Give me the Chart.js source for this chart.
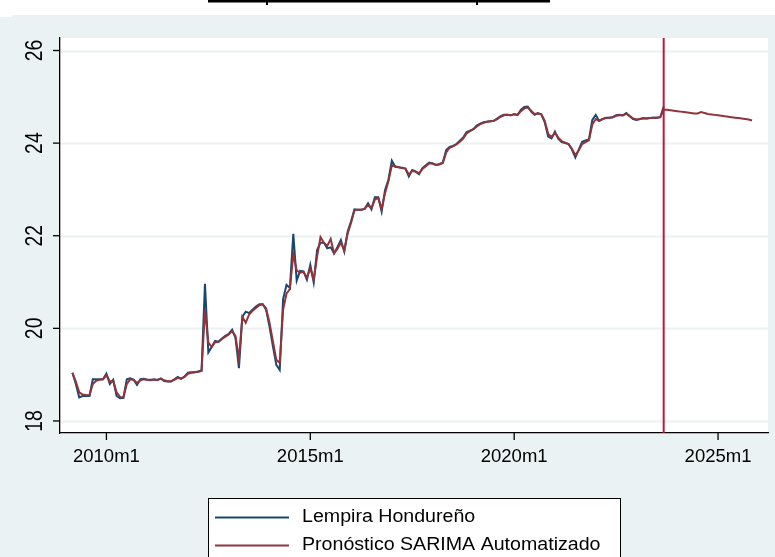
<!DOCTYPE html>
<html>
<head>
<meta charset="utf-8">
<script src="https://cdn.jsdelivr.net/npm/chart.js@4.4.1/dist/chart.umd.min.js"></script>
<style>
  body { margin: 0; background: #eaf2f3; }
  canvas { display: block; }
</style>
</head>
<body>
<canvas id="tsChart" width="775" height="557"></canvas>
<script>
// months counted from 2010m1 (= 0); first observation is 2009m3
const startMonth = -10;
const forecastStart = 164; // 2023m9

const lempira = [
    19.04, 18.80, 18.51, 18.54, 18.54, 18.54, 18.90, 18.90, 18.90, 18.90,
    19.02, 18.80, 18.89, 18.54, 18.49, 18.50, 18.90, 18.92, 18.89, 18.78, 18.90, 18.91,
    18.89, 18.88, 18.90, 18.88, 18.92, 18.86, 18.85, 18.85, 18.90, 18.95, 18.91, 18.96,
    19.04, 19.05, 19.05, 19.07, 19.09, 20.96, 19.48, 19.60, 19.73, 19.71, 19.78, 19.84,
    19.88, 19.97, 19.79, 19.14, 20.25, 20.36, 20.33, 20.40, 20.47, 20.52, 20.52, 20.40,
    20.04, 19.61, 19.21, 19.10, 20.63, 20.94, 20.87, 22.04, 21.03, 21.24, 21.23, 21.05,
    21.37, 20.99, 21.69, 21.85, 21.85, 21.73, 21.75, 21.62, 21.76, 21.91, 21.66, 22.09,
    22.31, 22.57, 22.56, 22.56, 22.58, 22.70, 22.57, 22.83, 22.83, 22.52, 22.99, 23.21,
    23.62, 23.49, 23.48, 23.47, 23.45, 23.28, 23.42, 23.39, 23.33, 23.46, 23.52, 23.58,
    23.56, 23.53, 23.55, 23.58, 23.85, 23.92, 23.94, 23.98, 24.05, 24.12, 24.24, 24.27,
    24.30, 24.38, 24.42, 24.45, 24.46, 24.47, 24.48, 24.53, 24.58, 24.61, 24.61, 24.60,
    24.63, 24.61, 24.72, 24.78, 24.79, 24.68, 24.61, 24.65, 24.62, 24.45, 24.14, 24.10,
    24.25, 24.09, 24.02, 24.00, 23.98, 23.86, 23.69, 23.86, 24.03, 24.06, 24.08, 24.50,
    24.61, 24.48, 24.52, 24.55, 24.55, 24.56, 24.60, 24.61, 24.60, 24.65, 24.58, 24.52,
    24.50, 24.52, 24.54, 24.53, 24.54, 24.55, 24.55, 24.56, 24.79
];

const sarima = [
    19.04, 18.85, 18.62, 18.57, 18.56, 18.55, 18.80, 18.87, 18.89, 18.90,
    18.99, 18.85, 18.86, 18.62, 18.52, 18.51, 18.80, 18.90, 18.89, 18.82, 18.88, 18.90,
    18.89, 18.89, 18.89, 18.89, 18.91, 18.88, 18.86, 18.86, 18.89, 18.93, 18.92, 18.95,
    19.02, 19.04, 19.05, 19.06, 19.08, 20.40, 19.69, 19.60, 19.70, 19.71, 19.77, 19.82,
    19.87, 19.94, 19.83, 19.33, 20.25, 20.12, 20.30, 20.38, 20.44, 20.50, 20.52, 20.43,
    20.12, 19.72, 19.32, 19.25, 20.40, 20.75, 20.85, 21.60, 21.25, 21.20, 21.22, 21.10,
    21.30, 21.05, 21.55, 21.97, 21.85, 21.78, 21.93, 21.62, 21.72, 21.85, 21.68, 22.05,
    22.28, 22.55, 22.56, 22.56, 22.58, 22.66, 22.60, 22.78, 22.82, 22.58, 22.92, 23.18,
    23.52, 23.50, 23.48, 23.46, 23.45, 23.32, 23.40, 23.38, 23.35, 23.44, 23.50, 23.56,
    23.56, 23.53, 23.54, 23.57, 23.80, 23.90, 23.93, 23.97, 24.03, 24.10, 24.21, 24.26,
    24.30, 24.36, 24.41, 24.44, 24.46, 24.47, 24.48, 24.52, 24.57, 24.60, 24.61, 24.60,
    24.62, 24.61, 24.69, 24.75, 24.77, 24.70, 24.63, 24.64, 24.62, 24.48, 24.20, 24.13,
    24.22, 24.12, 24.04, 24.01, 23.98, 23.88, 23.74, 23.84, 23.98, 24.02, 24.06, 24.40,
    24.52, 24.48, 24.52, 24.54, 24.55, 24.56, 24.59, 24.60, 24.60, 24.63, 24.59, 24.53,
    24.51, 24.52, 24.53, 24.53, 24.54, 24.55, 24.55, 24.56, 24.72, 24.72, 24.71, 24.70,
    24.69, 24.68, 24.67, 24.66, 24.65, 24.64, 24.64, 24.67, 24.65, 24.63, 24.62, 24.61,
    24.60, 24.59, 24.58, 24.57, 24.56, 24.55, 24.54, 24.53, 24.52, 24.51, 24.49
];

const xTickMonths = [0, 60, 120, 180];
const xTickLabels = ['2010m1', '2015m1', '2020m1', '2025m1'];
const yTicks = [18, 20, 22, 24, 26];

const BG = '#eaf2f3';
const BLUE = '#1a476f';
const MAROON = '#90353b';
const VLINE = '#c4163c';

const toPoints = arr => arr.map((v, i) => ({ x: startMonth + i, y: v }));

const stataLook = {
    id: 'stataLook',
    beforeDraw(chart) {
        const { ctx, chartArea: a, width } = chart;
        ctx.save();
        ctx.fillStyle = BG;
        ctx.fillRect(0, 0, width, chart.height);
        ctx.fillStyle = '#ffffff';
        ctx.fillRect(0, 0, width, 15);
        ctx.fillRect(0, 15, 12, 2);
        ctx.fillRect(a.left, a.top, a.right - a.left, a.bottom - a.top);
        // remnant of the cropped title
        ctx.fillStyle = '#000';
        ctx.fillRect(208, 0, 342, 2.5);
        ctx.fillRect(266, 2, 2, 3);
        ctx.fillRect(476, 2, 2, 3);
        // horizontal grid lines
        const y = chart.scales.y;
        ctx.strokeStyle = BG;
        ctx.lineWidth = 2;
        yTicks.forEach(v => {
            const py = Math.round(y.getPixelForValue(v)) + 0.5;
            ctx.beginPath();
            ctx.moveTo(a.left, py);
            ctx.lineTo(a.right, py);
            ctx.stroke();
        });
        ctx.restore();
    },
    afterDraw(chart) {
        const { ctx, chartArea: a } = chart;
        const x = chart.scales.x, y = chart.scales.y;
        ctx.save();
        // forecast start line
        const vx = x.getPixelForValue(forecastStart);
        ctx.strokeStyle = VLINE;
        ctx.lineWidth = 2;
        ctx.beginPath();
        ctx.moveTo(vx, a.top);
        ctx.lineTo(vx, a.bottom);
        ctx.stroke();

        // axis ticks and labels
        ctx.strokeStyle = '#000';
        ctx.lineWidth = 1.3;
        ctx.fillStyle = '#000';
        ctx.font = '18.5px "Liberation Sans", Arial, sans-serif';
        ctx.textAlign = 'center';
        ctx.textBaseline = 'middle';
        xTickMonths.forEach((m, i) => {
            const px = x.getPixelForValue(m);
            ctx.beginPath();
            ctx.moveTo(px, a.bottom);
            ctx.lineTo(px, a.bottom + 7);
            ctx.stroke();
            ctx.fillText(xTickLabels[i], px, 457);
        });
        ctx.font = '20px "Liberation Sans", Arial, sans-serif';
        yTicks.forEach(v => {
            const py = y.getPixelForValue(v);
            ctx.beginPath();
            ctx.moveTo(a.left - 7, py);
            ctx.lineTo(a.left, py);
            ctx.stroke();
            ctx.save();
            ctx.translate(35, py);
            ctx.rotate(-Math.PI / 2);
            ctx.scale(0.97, 1.18);
            ctx.fillText(String(v), 0, 0);
            ctx.restore();
        });

        // legend box
        ctx.fillStyle = '#ffffff';
        ctx.fillRect(208, 498, 412, 70);
        ctx.strokeStyle = '#000';
        ctx.lineWidth = 1;
        ctx.strokeRect(208.5, 498.5, 412, 70);
        ctx.textAlign = 'left';
        ctx.font = '17.5px "Liberation Sans", Arial, sans-serif';
        const rows = [517.5, 545.5];
        chart.data.datasets.slice().reverse().forEach((ds, i) => {
            ctx.strokeStyle = ds.borderColor;
            ctx.lineWidth = 1.8;
            ctx.beginPath();
            ctx.moveTo(215, rows[i]);
            ctx.lineTo(289, rows[i]);
            ctx.stroke();
            ctx.fillStyle = '#000';
            ctx.save();
            ctx.translate(302, rows[i]);
            ctx.scale(1.12, 1);
            ctx.fillText(ds.label, 0, 0);
            ctx.restore();
        });
        ctx.restore();
    }
};

new Chart(document.getElementById('tsChart'), {
    type: 'line',
    data: {
        datasets: [
            {
                label: 'Pronóstico SARIMA Automatizado',
                data: toPoints(sarima),
                borderColor: MAROON,
                borderWidth: 2,
                pointRadius: 0,
                tension: 0,
                order: 0
            },
            {
                label: 'Lempira Hondureño',
                data: toPoints(lempira),
                borderColor: BLUE,
                borderWidth: 2,
                pointRadius: 0,
                tension: 0,
                order: 1
            }
        ]
    },
    options: {
        responsive: false,
        animation: false,
        devicePixelRatio: 1,
        layout: { padding: { top: 38, right: 7, left: 0, bottom: 0 } },
        plugins: { legend: { display: false }, tooltip: { enabled: false } },
        scales: {
            x: {
                type: 'linear',
                min: -13.66,
                max: 194.7,
                ticks: { display: false },
                grid: { display: false },
                border: { display: true, color: '#000', width: 1.3 },
                afterFit: s => { s.height = 124; }
            },
            y: {
                type: 'linear',
                min: 17.74,
                max: 26.27,
                ticks: { display: false },
                grid: { display: false },
                border: { display: true, color: '#000', width: 1.3 },
                afterFit: s => { s.width = 60; }
            }
        }
    },
    plugins: [stataLook]
});
</script>
</body>
</html>
